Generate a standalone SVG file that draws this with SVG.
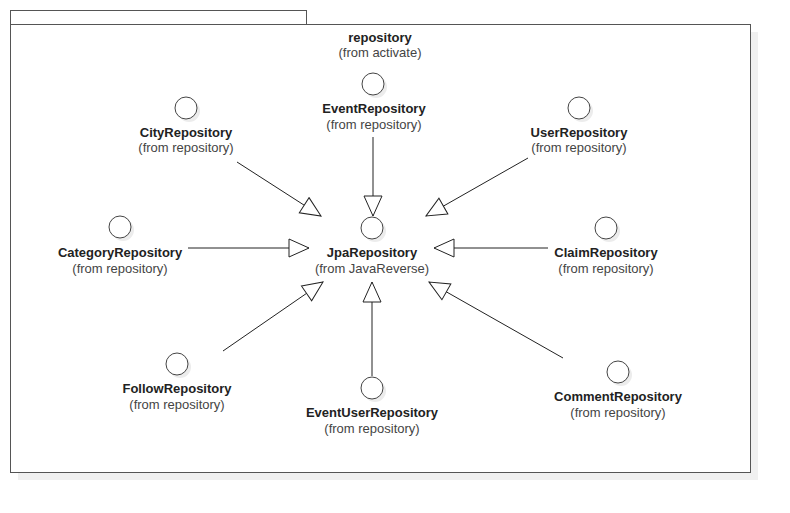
<svg xmlns="http://www.w3.org/2000/svg" width="790" height="513" viewBox="0 0 790 513">
<style>
.t{font-family:"Liberation Sans",Arial,sans-serif;font-size:13px;text-anchor:middle}
.b{font-weight:bold;fill:#222}
.r{fill:#444}
.c{fill:#fff;stroke:#444;stroke-width:1}
.s{fill:#ececec}
.e{stroke:#222;stroke-width:1;fill:none;marker-end:url(#tri)}
</style>
<defs>
<marker id="tri" markerUnits="userSpaceOnUse" markerWidth="24" markerHeight="22" refX="21" refY="10" orient="auto">
<path d="M1,1 L21,10 L1,19 Z" fill="#fff" stroke="#222" stroke-width="1"/>
</marker>
</defs>
<g id="package">
<rect x="18" y="32" width="740" height="448" fill="#f0f0f0"/>
<rect x="10.5" y="10.5" width="296" height="14" fill="#fff" stroke="#555"/>
<rect x="10.5" y="24.5" width="740" height="448" fill="#fff" stroke="#555"/>
<text class="t b" x="380" y="42">repository</text>
<text class="t r" x="380" y="57">(from activate)</text>
</g>
<g id="connectors">
<line class="e" x1="373" y1="137" x2="373" y2="216"/>
<line class="e" x1="237" y1="162" x2="321" y2="216"/>
<line class="e" x1="528" y1="158" x2="426" y2="216"/>
<line class="e" x1="188" y1="248" x2="309" y2="248"/>
<line class="e" x1="548" y1="248" x2="434" y2="248"/>
<line class="e" x1="223" y1="351" x2="323" y2="282"/>
<line class="e" x1="372" y1="376" x2="372" y2="282"/>
<line class="e" x1="563" y1="358" x2="429" y2="282"/>
</g>
<g id="JpaRepository">
<circle class="s" cx="375" cy="231" r="11"/><circle class="c" cx="372" cy="228" r="11"/>
<text class="t b" x="372" y="257">JpaRepository</text>
<text class="t r" x="372" y="273">(from JavaReverse)</text>
</g>
<g id="EventRepository">
<circle class="s" cx="376" cy="87" r="11"/><circle class="c" cx="373" cy="84" r="11"/>
<text class="t b" x="374" y="113">EventRepository</text>
<text class="t r" x="374" y="129">(from repository)</text>
</g>
<g id="CityRepository">
<circle class="s" cx="189" cy="111" r="11"/><circle class="c" cx="186" cy="108" r="11"/>
<text class="t b" x="186" y="137">CityRepository</text>
<text class="t r" x="186" y="152">(from repository)</text>
</g>
<g id="UserRepository">
<circle class="s" cx="582" cy="111" r="11"/><circle class="c" cx="579" cy="108" r="11"/>
<text class="t b" x="579" y="137">UserRepository</text>
<text class="t r" x="579" y="152">(from repository)</text>
</g>
<g id="CategoryRepository">
<circle class="s" cx="123" cy="230" r="11"/><circle class="c" cx="120" cy="227" r="11"/>
<text class="t b" x="120" y="257">CategoryRepository</text>
<text class="t r" x="120" y="273">(from repository)</text>
</g>
<g id="ClaimRepository">
<circle class="s" cx="609" cy="231" r="11"/><circle class="c" cx="606" cy="228" r="11"/>
<text class="t b" x="606" y="257">ClaimRepository</text>
<text class="t r" x="606" y="273">(from repository)</text>
</g>
<g id="FollowRepository">
<circle class="s" cx="180" cy="367" r="11"/><circle class="c" cx="177" cy="364" r="11"/>
<text class="t b" x="177" y="393">FollowRepository</text>
<text class="t r" x="177" y="409">(from repository)</text>
</g>
<g id="EventUserRepository">
<circle class="s" cx="375" cy="391" r="11"/><circle class="c" cx="372" cy="388" r="11"/>
<text class="t b" x="372" y="417">EventUserRepository</text>
<text class="t r" x="372" y="433">(from repository)</text>
</g>
<g id="CommentRepository">
<circle class="s" cx="621" cy="375" r="11"/><circle class="c" cx="618" cy="372" r="11"/>
<text class="t b" x="618" y="401">CommentRepository</text>
<text class="t r" x="618" y="417">(from repository)</text>
</g>
</svg>
